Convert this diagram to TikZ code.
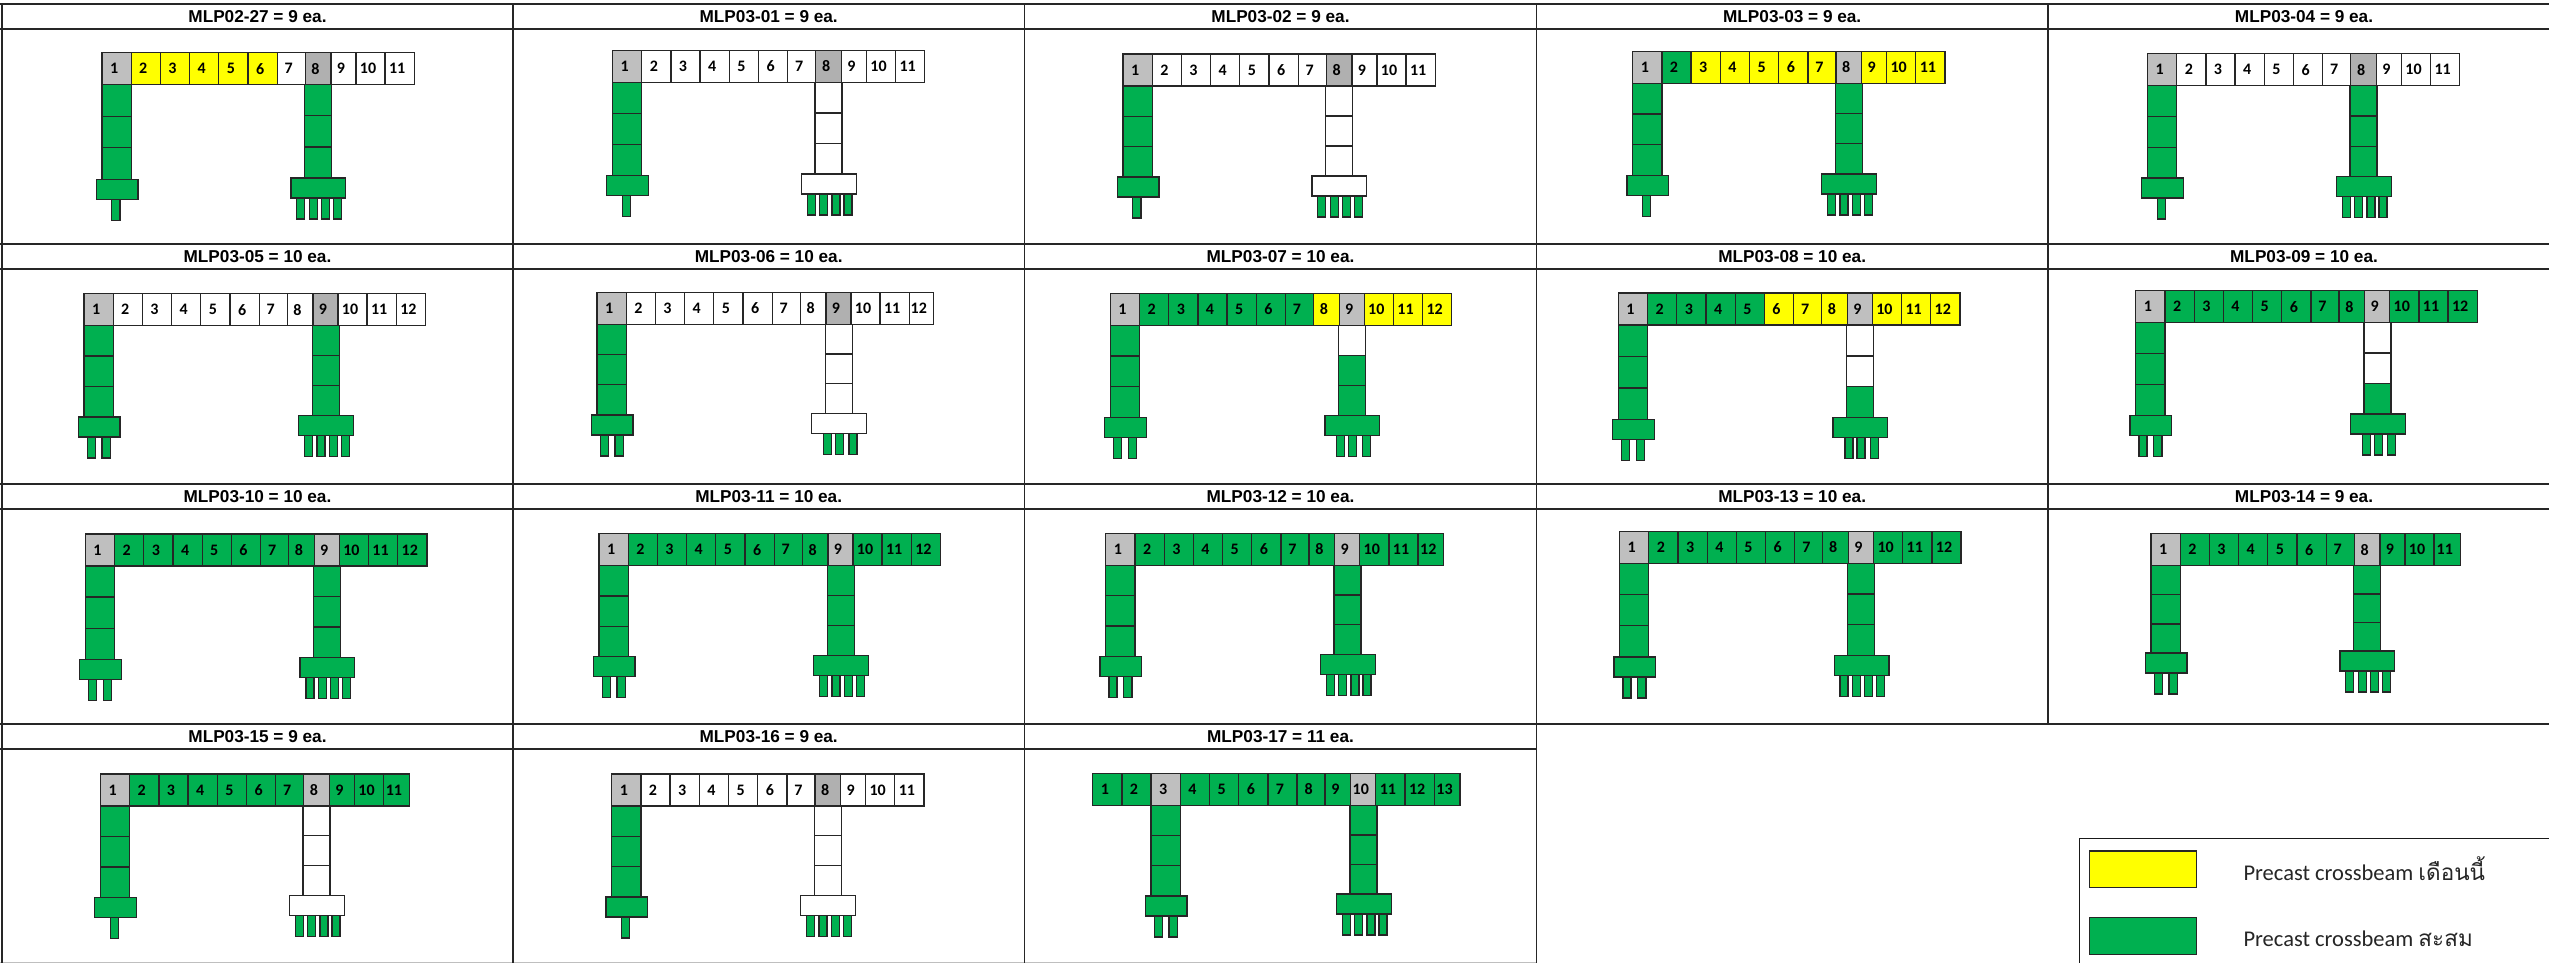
\documentclass[tikz,border=0pt]{standalone}
\usepackage{fontspec}
\setmainfont{Carlito}
\newfontfamily\hdrfont{Liberation Sans}
\newfontfamily\thaifont[Script=Thai]{Loma}
\definecolor{cellg}{HTML}{00B050}
\definecolor{celly}{HTML}{FFFF00}
\definecolor{cellw}{HTML}{FFFFFF}
\definecolor{cellc}{HTML}{BFBFBF}
\definecolor{celld}{HTML}{B0B0B0}
\tikzset{
  blk/.style={draw=black!85,line width=1.3pt,inner sep=0pt,outer sep=0pt,anchor=north west},
  numcell/.style={blk,font=\bfseries\fontsize{16}{16}\selectfont},
  gridline/.style={draw=black!85,line width=1.4pt},
  hdr/.style={anchor=base,inner sep=0pt,font=\hdrfont\bfseries\fontsize{17.2}{17.2}\selectfont},
  legtext/.style={anchor=base west,inner sep=0pt,font=\fontsize{22.5}{22.5}\selectfont,text=black!85}
}
\newcommand{\blkbox}[6]{% name x1 y1 x2 y2 fill
  \pgfmathsetmacro{\bw}{#4-(#2)}\pgfmathsetmacro{\bh}{#5-(#3)}
  \node[blk,fill=#6,minimum width=\bw pt,minimum height=\bh pt] (#1) at (#2,#3) {};}
\newcommand{\calcw}{\pgfmathsetmacro{\w}{\i==\gn?\glw:(\i==\gq?25.7:(\i==\gq+1?25:(\i==\gq-1?28:29.2)))}}
% \panel{id}{X}{Y}{colours}{p1/p2/lastwidth/q}{cap1/cap2}{piles1/piles2}{seg1/seg2/seg3/cap fill of col 2}
% q = index of the cell 25.7 wide; the next is 25 wide, the one before 28 wide
\newcommand{\panel}[8]{%
  \xdef\curx{#2}%
  \foreach \pa/\pb/\lw/\qq in {#5}{\global\let\gpa\pa\global\let\gpb\pb\global\let\glw\lw\global\let\gq\qq}%
  \foreach \ca/\cb in {#6}{\global\let\gca\ca\global\let\gcb\cb}%
  \foreach \na/\nb in {#7}{\global\let\gna\na\global\let\gnb\nb}%
  \foreach \fa/\fb/\fc/\fd in {#8}{\global\let\gfa\fa\global\let\gfb\fb\global\let\gfc\fc\global\let\gfd\fd}%
  \foreach \c [count=\i] in {#4}{\xdef\gn{\i}}%
  % locate the pier cells first
  \xdef\tmpx{#2}%
  \foreach \c [count=\i] in {#4}{%
    \calcw
    \ifnum\i=\gpa\xdef\xa{\tmpx}\xdef\wa{\w}\fi
    \ifnum\i=\gpb\xdef\xb{\tmpx}\fi
    \pgfmathsetmacro{\nx}{\tmpx+\w}\xdef\tmpx{\nx}%
  }%
  \pgfmathsetmacro{\Ybot}{#3+32}%
  % column 1
  \pgfmathsetmacro{\xar}{\xa+\wa}%
  \pgfmathsetmacro{\capa}{#3+\gca}%
  \pgfmathsetmacro{\sega}{\Ybot+(\capa-\Ybot)/3}\pgfmathsetmacro{\segb}{\Ybot+2*(\capa-\Ybot)/3}%
  \blkbox{#1ca1}{\xa}{\Ybot}{\xar}{\sega}{cellg}
  \blkbox{#1ca2}{\xa}{\sega}{\xar}{\segb}{cellg}
  \blkbox{#1ca3}{\xa}{\segb}{\xar}{\capa}{cellg}
  \pgfmathsetmacro{\pt}{\capa+20}\pgfmathsetmacro{\pe}{\pt+21}%
  \ifnum\gna=1
    \pgfmathsetmacro{\pl}{\xa+9.7}\pgfmathsetmacro{\pr}{\pl+8.3}%
    \blkbox{#1pa1}{\pl}{\pt}{\pr}{\pe}{cellg}
  \else
    \pgfmathsetmacro{\pl}{\xa+3.3}\pgfmathsetmacro{\pr}{\pl+8}%
    \blkbox{#1pa1}{\pl}{\pt}{\pr}{\pe}{cellg}
    \pgfmathsetmacro{\pl}{\xa+18}\pgfmathsetmacro{\pr}{\pl+8.3}%
    \blkbox{#1pa2}{\pl}{\pt}{\pr}{\pe}{cellg}
  \fi
  \pgfmathsetmacro{\pl}{\xa-5.7}\pgfmathsetmacro{\pr}{\pl+41.7}%
  \blkbox{#1capa}{\pl}{\capa}{\pr}{\pt}{cellg}
  % column 2
  \pgfmathsetmacro{\xbl}{\xb-0.7}\pgfmathsetmacro{\xbr}{\xb+26.3}%
  \pgfmathsetmacro{\capb}{#3+\gcb}%
  \pgfmathsetmacro{\sega}{\Ybot+(\capb-\Ybot)/3}\pgfmathsetmacro{\segb}{\Ybot+2*(\capb-\Ybot)/3}%
  \blkbox{#1cb1}{\xbl}{\Ybot}{\xbr}{\sega}{\gfa}
  \blkbox{#1cb2}{\xbl}{\sega}{\xbr}{\segb}{\gfb}
  \blkbox{#1cb3}{\xbl}{\segb}{\xbr}{\capb}{\gfc}
  \pgfmathsetmacro{\pt}{\capb+20}\pgfmathsetmacro{\pe}{\pt+21}%
  \ifnum\gnb=4
    \foreach \off/\pid in {-7.7/1,4.7/2,17/3,29/4}{%
      \pgfmathsetmacro{\pl}{\xbl+\off}\pgfmathsetmacro{\pr}{\pl+8}%
      \blkbox{#1pb\pid}{\pl}{\pt}{\pr}{\pe}{cellg}}
  \else
    \foreach \off/\pid in {-1.7/1,10.3/2,23.7/3}{%
      \pgfmathsetmacro{\pl}{\xbl+\off}\pgfmathsetmacro{\pr}{\pl+8}%
      \blkbox{#1pb\pid}{\pl}{\pt}{\pr}{\pe}{cellg}}
  \fi
  \pgfmathsetmacro{\pl}{\xbl-13.5}\pgfmathsetmacro{\pr}{\pl+54.7}%
  \blkbox{#1capb}{\pl}{\capb}{\pr}{\pt}{\gfd}
  % beam
  \foreach \c [count=\i] in {#4}{%
    \calcw
    \node[numcell,fill=cell\c,minimum width=\w pt,minimum height=32pt] (#1b\i) at (\curx,#3) {\i\hspace*{5pt}};
    \pgfmathsetmacro{\nx}{\curx+\w}\xdef\curx{\nx}%
  }%
}
\begin{document}
\begin{tikzpicture}[x=1pt,y=-1pt]
\useasboundingbox (0,0) rectangle (2549,963);
\fill[white] (0,0) rectangle (2549,963);
% grid
\foreach \yy in {4,29,244,269,484,509,724}{\draw[gridline] (0,\yy) -- (2549,\yy);}
\draw[gridline] (0,749) -- (1536.5,749);
\draw[draw=black!25,line width=1.2pt] (0,962.3) -- (1536.5,962.3);
\foreach \xx in {2,513,1024.5,1536.5}{\draw[gridline] (\xx,4) -- (\xx,963);}
\draw[gridline] (2048,4) -- (2048,724);
% headers
\foreach \xx/\yy/\tt in {257.5/22.5/MLP02-27 = 9 ea.,768.7/22.5/MLP03-01 = 9 ea.,1280.5/22.5/MLP03-02 = 9 ea.,1792.2/22.5/MLP03-03 = 9 ea.,2304/22.5/MLP03-04 = 9 ea.,
 257.5/262.5/MLP03-05 = 10 ea.,768.7/262.5/MLP03-06 = 10 ea.,1280.5/262.5/MLP03-07 = 10 ea.,1792.2/262.5/MLP03-08 = 10 ea.,2304/262.5/MLP03-09 = 10 ea.,
 257.5/502.5/MLP03-10 = 10 ea.,768.7/502.5/MLP03-11 = 10 ea.,1280.5/502.5/MLP03-12 = 10 ea.,1792.2/502.5/MLP03-13 = 10 ea.,2304/502.5/MLP03-14 = 9 ea.,
 257.5/742.5/MLP03-15 = 9 ea.,768.7/742.5/MLP03-16 = 9 ea.,1280.5/742.5/MLP03-17 = 11 ea.}{
  \node[hdr] at (\xx,\yy) {\tt};}
% panels
\panel{pa}{102}{52.7}{c,y,y,y,y,y,w,d,w,w,w}{1/8/29.2/8}{126.7/125.3}{1/4}{cellg/cellg/cellg/cellg}
\panel{pb}{612.5}{50.3}{c,w,w,w,w,w,w,d,w,w,w}{1/8/29.2/8}{125/123.7}{1/4}{cellw/cellw/cellw/cellw}
\panel{pc}{1123}{54}{c,w,w,w,w,w,w,d,w,w,w}{1/8/29.2/8}{123/122}{1/4}{cellw/cellw/cellw/cellw}
\panel{pd}{1632.7}{51.3}{c,g,y,y,y,y,y,c,y,y,y}{1/8/29.2/8}{124/122.7}{1/4}{cellg/cellg/cellg/cellg}
\panel{pe}{2147.5}{53.7}{c,w,w,w,w,w,w,d,w,w,w}{1/8/29.2/8}{124.3/123}{1/4}{cellg/cellg/cellg/cellg}
\panel{pf}{84}{293.7}{c,w,w,w,w,w,w,w,d,w,w,w}{1/9/29.2/8}{123.3/122}{2/4}{cellg/cellg/cellg/cellg}
\panel{pg}{597}{292.3}{c,w,w,w,w,w,w,w,d,w,w,w}{1/9/24/8}{122.7/121.3}{2/3}{cellw/cellw/cellw/cellw}
\panel{ph}{1110.3}{293.3}{c,g,g,g,g,g,g,y,c,y,y,y}{1/9/29.2/8}{124/122.3}{2/3}{cellw/cellg/cellg/cellg}
\panel{pi}{1618.4}{293}{c,g,g,g,g,y,y,y,c,y,y,y}{1/9/29.2/8}{126.3/124.7}{2/3}{cellw/cellw/cellg/cellg}
\panel{pj}{2135.8}{290.7}{c,g,g,g,g,g,g,g,c,g,g,g}{1/9/29.2/8}{125/123.3}{2/3}{cellw/cellw/cellg/cellg}
\panel{pk}{85.4}{534}{c,g,g,g,g,g,g,g,c,g,g,g}{1/9/29.2/8}{125.3/123.7}{2/4}{cellg/cellg/cellg/cellg}
\panel{pl}{599}{533.7}{c,g,g,g,g,g,g,g,c,g,g,g}{1/9/29.2/8}{123/121.7}{2/4}{cellg/cellg/cellg/cellg}
\panel{pm}{1105.8}{533.3}{c,g,g,g,g,g,g,g,c,g,g,g}{1/9/25.4/8}{123/121.3}{2/4}{cellg/cellg/cellg/cellg}
\panel{pn}{1619.6}{531.3}{c,g,g,g,g,g,g,g,c,g,g,g}{1/9/29.2/8}{125.7/124.3}{2/4}{cellg/cellg/cellg/cellg}
\panel{po}{2151}{533.7}{c,g,g,g,g,g,g,c,g,g,g}{1/8/26.3/8}{119.3/117.3}{2/4}{cellg/cellg/cellg/cellg}
\panel{pp}{100.5}{774}{c,g,g,g,g,g,g,c,g,g,g}{1/8/25.6/8}{123.3/121.3}{1/4}{cellw/cellw/cellw/cellw}
\panel{pq}{611.7}{774}{c,w,w,w,w,w,w,d,w,w,w}{1/8/29.2/8}{123/121.3}{1/4}{cellw/cellw/cellw/cellw}
\panel{pr}{1092.7}{773.3}{g,g,c,g,g,g,g,g,g,c,g,g,g}{3/10/25.7/9}{122.7/120.7}{2/4}{cellg/cellg/cellg/cellg}
% legend
\draw[draw=black!90,line width=1.3pt] (2079.3,963) -- (2079.3,838.3) -- (2549,838.3);
\blkbox{legy}{2089.3}{851}{2196.7}{887.7}{celly}
\blkbox{legg}{2089.3}{917.3}{2196.7}{954.3}{cellg}
\node[legtext] (legya) at (2243.3,880) {Precast crossbeam {\thaifont เดือนนี้}};
\node[legtext] (legga) at (2243.3,946.5) {Precast crossbeam {\thaifont สะสม}};
\end{tikzpicture}
\end{document}
